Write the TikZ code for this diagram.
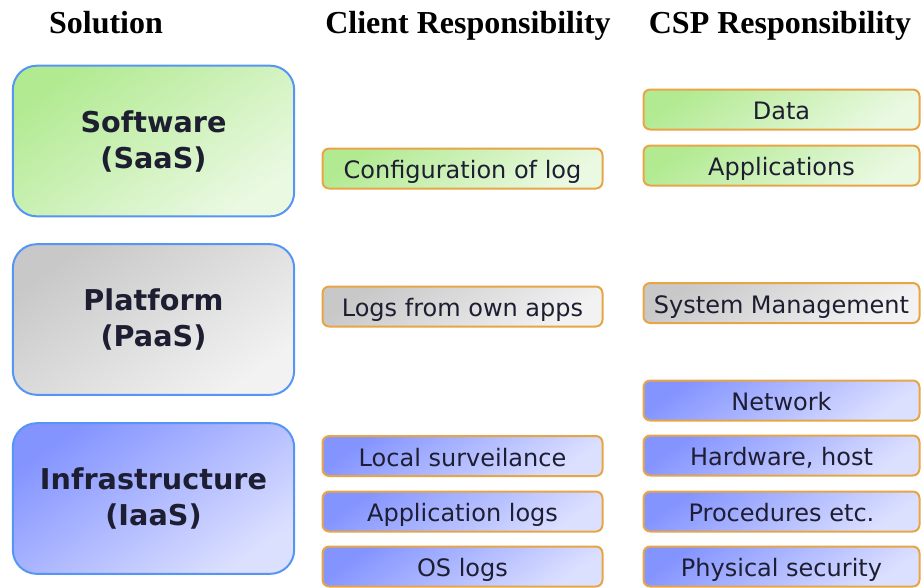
\documentclass[tikz,border=0pt]{standalone}
\usepackage{fontspec}
\setmainfont{Liberation Serif}
\newfontfamily\verdfont{DejaVu Sans}
\usepackage{tikz}
\definecolor{solblue}{RGB}{85,150,245}
\definecolor{boxorange}{RGB}{232,165,70}
\definecolor{greenA}{RGB}{178,234,146}
\definecolor{greenB}{RGB}{234,249,226}
\definecolor{grayA}{RGB}{200,200,200}
\definecolor{grayB}{RGB}{242,242,242}
\definecolor{blueA}{RGB}{132,148,255}
\definecolor{blueB}{RGB}{220,224,255}
\definecolor{boxtext}{RGB}{30,30,50}

\begin{document}
\begin{tikzpicture}[x=0.75pt, y=-0.75pt,
    every node/.style={font=\verdfont, text=boxtext},
    head/.style={anchor=base, text=black, font=\bfseries\fontsize{24}{28}\selectfont},
    solbox/.style={draw=solblue, line width=1.5pt, rounded corners=18pt,
        minimum width=211pt, minimum height=113pt, align=center,
        font=\verdfont\bfseries\fontsize{21.5}{27}\selectfont},
    respbox/.style={draw=boxorange, line width=1.5pt, rounded corners=5pt,
        minimum width=210pt, minimum height=30pt, inner sep=0pt,
        text height=15pt, text depth=0pt,
        font=\verdfont\fontsize{18}{22}\selectfont},
    cspbox/.style={respbox, minimum width=207pt},
    greenfill/.style={top color=greenA, bottom color=greenB, shading angle=35},
    grayfill/.style={top color=grayA, bottom color=grayB, shading angle=35},
    bluefill/.style={top color=blueA, bottom color=blueB, shading angle=35}]
    \useasboundingbox (0,0) rectangle (922,587);
    %%%%%%%%%%%%%%% Column titles
    \node[head] (hsol) at (106,33) {Solution};
    \node[head] (hclient) at (468,33) {Client Responsibility};
    \node[head] (hcsp) at (780,33) {CSP Responsibility};
    %%%%%%%%%%%%%%% Solution boxes
    \node[solbox, greenfill] (saas) at (153.5,141) {Software\\(SaaS)};
    \node[solbox, grayfill] (paas) at (153.5,319.5) {Platform\\(PaaS)};
    \node[solbox, bluefill] (iaas) at (153.5,498.5) {Infrastructure\\(IaaS)};
    %%%%%%%%%%%%%%% Client responsibility
    \node[respbox, greenfill] (cconf) at (462.5,168.5) {Configuration of log};
    \node[respbox, grayfill] (capps) at (462.5,306.5) {Logs from own apps};
    \foreach \y/\name/\txt in {456/clocal/Local surveilance,511.5/capplog/Application logs,566.5/coslog/OS logs} {
        \node[respbox, bluefill] (\name) at (462.5,\y) {\txt};
    }
    %%%%%%%%%%%%%%% CSP responsibility
    \node[cspbox, greenfill] (pdata) at (781.5,109.5) {Data};
    \node[cspbox, greenfill] (papps) at (781.5,165.5) {Applications};
    \node[cspbox, grayfill] (psys) at (781.5,303) {System Management};
    \foreach \y/\name/\txt in {400.5/pnet/Network,455.5/phw/{Hardware, host},511.5/pproc/Procedures etc.,566.5/pphys/Physical security} {
        \node[cspbox, bluefill] (\name) at (781.5,\y) {\txt};
    }
\end{tikzpicture}
\end{document}
